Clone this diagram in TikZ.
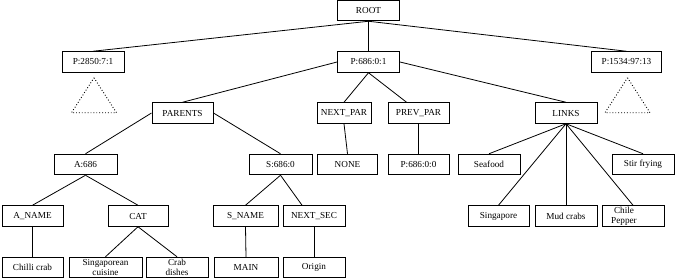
\documentclass[tikz,border=0pt]{standalone}
\usepackage{fontspec}
\setmainfont{Liberation Serif}
\usetikzlibrary{calc}

\begin{document}
\begin{tikzpicture}[x=1pt, y=-1pt,
  box/.style={draw, line width=1pt, inner sep=0pt, minimum width=62pt, minimum height=20.5pt,
    align=center, font=\fontsize{9.2}{10}\selectfont},
  link/.style={line width=0.8pt},
  subtree/.style={dotted, line width=0.9pt}]
  \useasboundingbox (0,0) rectangle (675,279);

  \node[box] (root) at (368.5,10.5) {ROOT};

  \node[box] (p2850) at (93,62) {P:2850:7:1};
  \node[box] (p686) at (368.5,62) {P:686:0:1};
  \node[box, minimum width=70pt] (p1534) at (626.5,62) {P:1534:97:13};

  \node[box, minimum width=61pt] (parents) at (182.5,113) {PARENTS};
  \node[box, minimum width=54pt] (nextpar) at (344,113) {NEXT\_PAR};
  \node[box, minimum width=61pt] (prevpar) at (418.5,113) {PREV\_PAR};
  \node[box] (links) at (566,113) {LINKS};

  \node[box, minimum width=63pt] (a686) at (85.5,164.5) {A:686};
  \node[box, minimum width=63pt] (s686) at (280.5,164.5) {S:686:0};
  \node[box, minimum width=60pt] (none) at (347.5,164.5) {NONE};
  \node[box, minimum width=61pt] (p68600) at (418.5,164.5) {P:686:0:0};
  \node[box] (seafood) at (489,164.5) {Seafood};
  \node[box] (stirfry) at (643,164.5) {Stir frying};

  \node[box, minimum width=61pt] (aname) at (32.5,216) {A\_NAME};
  \node[box, minimum width=60pt] (cat) at (138,216) {CAT};
  \node[box, minimum width=65pt] (sname) at (245.5,216) {S\_NAME};
  \node[box] (nextsec) at (314,216) {NEXT\_SEC};
  \node[box, minimum width=61pt] (singapore) at (498.5,216) {Singapore};
  \node[box] (mudcrabs) at (566,216) {Mud crabs};
  \node[box] (chile) at (633,216)
    {\hspace*{-18pt}\begin{tabular}{@{}c@{}}Chile\\Pepper\end{tabular}};

  \node[box, minimum width=61pt] (chilli) at (32.5,267.5) {Chilli crab};
  \node[box, minimum width=73pt] (cuisine) at (105.5,267.5) {Singaporean\\cuisine};
  \node[box] (dishes) at (177,267.5) {Crab\\dishes};
  \node[box, minimum width=64pt] (main) at (246,267.5) {MAIN};
  \node[box] (origin) at (314,267.5) {Origin};

  \draw[link] (root.south) -- (p2850.north);
  \draw[link] (root.south) -- (p686.north);
  \draw[link] (root.south) -- (p1534.north);

  \draw[link] (p686.west) -- (parents.north);
  \draw[link] (p686.south) -- (nextpar.north);
  \draw[link] (p686.south) -- (prevpar.138);
  \draw[link] (p686.east) -- (links.north);

  \draw[link] (parents.west) -- (a686.north);
  \draw[link] (parents.east) -- (s686.north);
  \draw[link] (nextpar.south) -- (none.north);
  \draw[link] (prevpar.south) -- (p68600.north);

  \draw[link] (links.south) -- (seafood.north);
  \draw[link] (links.south) -- (singapore.north);
  \draw[link] (links.south) -- (mudcrabs.north);
  \draw[link] (links.south) -- (chile.north);
  \draw[link] (links.south) -- (stirfry.north);

  \draw[link] (a686.south) -- (aname.north);
  \draw[link] (a686.south) -- (cat.north);
  \draw[link] (s686.south) -- (sname.north);
  \draw[link] (s686.south) -- (nextsec.138);

  \draw[link] (aname.south) -- (chilli.north);
  \draw[link] (cat.south) -- (cuisine.north);
  \draw[link] (cat.south) -- (dishes.north);
  \draw[link] (sname.south) -- (main.north);
  \draw[link] (nextsec.south) -- (origin.north);

  \draw[subtree] ($(p2850.south)+(1,5)$) -- ++(22.5,35) -- ++(-45,0) -- cycle;
  \draw[subtree] ($(p1534.south)+(1,5)$) -- ++(22.5,35) -- ++(-45,0) -- cycle;
\end{tikzpicture}
\end{document}
